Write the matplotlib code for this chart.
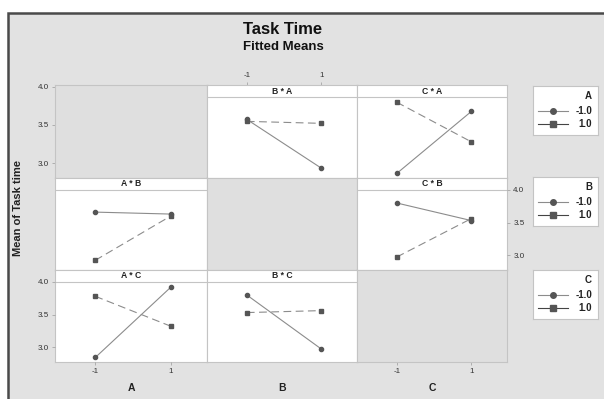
import matplotlib
matplotlib.use("Agg")
import matplotlib.pyplot as plt
from matplotlib.patches import Rectangle
from matplotlib.lines import Line2D

W, H = 604, 399

factors = ["A", "B", "C"]
levels = [-1, 1]
level_labels = ["-1.0", "1.0"]

# Fitted cell means, table[i][j] = mean at first factor level i, second factor level j
ab_means = [[3.66, 2.92],
            [3.63, 3.60]]
ac_means = [[2.84, 3.78],
            [3.92, 3.32]]
bc_means = [[3.80, 3.53],
            [2.97, 3.56]]
pair_means = {("A", "B"): ab_means, ("A", "C"): ac_means, ("B", "C"): bc_means}

y_ticks = [3.0, 3.5, 4.0]
y_tick_labels = ["3.0", "3.5", "4.0"]
x_tick_labels = ["-1", "1"]

BG = "#e2e2e2"
PANEL_GRAY = "#dfdfdf"
EDGE = "#c4c4c4"
LINE = "#8c8c8c"
MARK = "#555555"
TXT = "#222222"
TICKC = "#999999"

plt.rcParams["font.family"] = ["Liberation Sans", "DejaVu Sans"]

fig = plt.figure(figsize=(W / 100, H / 100), dpi=100)
fig.patch.set_facecolor("white")


def box(x0, y0, x1, y1):
    return [x0 / W, 1 - y1 / H, (x1 - x0) / W, (y1 - y0) / H]


def cell_mean(fx, ix, ft, it):
    if (fx, ft) in pair_means:
        return pair_means[(fx, ft)][ix][it]
    return pair_means[(ft, fx)][it][ix]


# outer frame
frame = fig.add_axes([0, 0, 1, 1], zorder=-10)
frame.set_xlim(0, W)
frame.set_ylim(H, 0)
frame.axis("off")
frame.add_patch(Rectangle((8, 13), W, H, facecolor=BG, edgecolor="#4a4a4a", lw=1.8))

fig.text(283 / W, 1 - 30 / H, "Task Time", ha="center", va="center",
         fontsize=12, fontweight="bold", color="#111111")
fig.text(283 / W, 1 - 47 / H, "Fitted Means", ha="center", va="center",
         fontsize=9.5, fontweight="bold", color="#111111")
fig.text(18 / W, 1 - 208 / H, "Mean of Task time", ha="center", va="center",
         rotation=90, fontsize=8, fontweight="bold", color=TXT)

xs = [55, 207, 357, 507]
ys = [85, 178, 270, 362]
STRIP = 12
XLIM = (-2.07, 1.96)
YLIM = (2.77, 4.0)


def style_ticks(ax):
    ax.tick_params(length=2.5, width=0.5, color=TICKC, labelsize=5.8,
                   labelcolor="#333333", pad=2)


for r in range(3):
    for c in range(3):
        x0, x1 = xs[c], xs[c + 1]
        y0, y1 = ys[r], ys[r + 1]
        cell = fig.add_axes(box(x0, y0, x1, y1))
        cell.set_xticks([])
        cell.set_yticks([])
        for s in cell.spines.values():
            s.set_color(EDGE)
            s.set_linewidth(0.8)
        if r == c:
            cell.set_facecolor(PANEL_GRAY)
            cell.set_xlim(*XLIM)
            if r == 0:
                # left scale of the first row spans the whole cell
                cell.set_ylim(2.803, 4.026)
                cell.set_yticks(y_ticks)
                cell.set_yticklabels(y_tick_labels)
                style_ticks(cell)
            if r == 2:
                cell.set_xticks(levels)
                cell.set_xticklabels(x_tick_labels)
                style_ticks(cell)
            continue
        cell.set_facecolor("white")
        if r == 0 and c == 1:
            cell.set_xlim(*XLIM)
            cell.xaxis.tick_top()
            cell.set_xticks(levels)
            cell.set_xticklabels(x_tick_labels)
            style_ticks(cell)

        # strip with the interaction name
        fx, ft = factors[c], factors[r]
        cell.add_line(Line2D([0, 1], [1 - STRIP / (y1 - y0)] * 2,
                             transform=cell.transAxes, color=EDGE, lw=0.8))
        cell.text(0.5, 1 - STRIP / 2 / (y1 - y0), f"{fx} * {ft}",
                  transform=cell.transAxes, ha="center", va="center",
                  fontsize=6.2, fontweight="bold", color=TXT)

        ax = fig.add_axes(box(x0, y0 + STRIP, x1, y1))
        ax.patch.set_alpha(0)
        for s in ax.spines.values():
            s.set_visible(False)
        ax.set_xlim(*XLIM)
        ax.set_ylim(*YLIM)
        ax.set_xticks([])
        ax.set_yticks([])
        for it, (mk, ls) in enumerate([("o", "-"), ("s", (0, (7, 4)))]):
            vals = [cell_mean(fx, ix, ft, it) for ix in range(2)]
            ax.plot(levels, vals, color=LINE, lw=0.8, ls=ls, marker=mk,
                    ms=3.0 if mk == "o" else 3.0, mfc=MARK, mec=MARK, zorder=3)
        if c == 0 and r == 2:
            ax.set_yticks(y_ticks)
            ax.set_yticklabels(y_tick_labels)
            ax.set_xticks(levels)
            ax.set_xticklabels(x_tick_labels)
            style_ticks(ax)
        if c == 2 and r == 1:
            ax.yaxis.tick_right()
            ax.set_yticks(y_ticks)
            ax.set_yticklabels(y_tick_labels)
            style_ticks(ax)

# factor names under the columns
for c, f in enumerate(factors):
    fig.text((xs[c] + xs[c + 1]) / 2 / W, 1 - 388 / H, f, ha="center",
             va="center", fontsize=7.5, fontweight="bold", color=TXT)

# legends, one per row factor
legend_tops = [86, 177, 270]
for f, top in zip(factors, legend_tops):
    lg = fig.add_axes(box(533, top, 598, top + 49))
    lg.set_facecolor("white")
    lg.set_xlim(0, 65)
    lg.set_ylim(49, 0)
    lg.set_xticks([])
    lg.set_yticks([])
    for s in lg.spines.values():
        s.set_color(EDGE)
        s.set_linewidth(0.8)
    lg.text(59, 10, f, ha="right", va="center", fontsize=7,
            fontweight="bold", color=TXT)
    for it, (mk, yy) in enumerate([("o", 25), ("s", 38)]):
        lg.plot([5, 20, 35], [yy] * 3, color=LINE if mk == "o" else "#444444",
                lw=0.8, marker=mk, markevery=[1],
                ms=4.0, mfc=MARK, mec=MARK)
        lg.text(59, yy, level_labels[it], ha="right", va="center",
                fontsize=7, fontweight="bold", color=TXT)

fig.savefig("out.png", dpi=100, facecolor=fig.get_facecolor())
